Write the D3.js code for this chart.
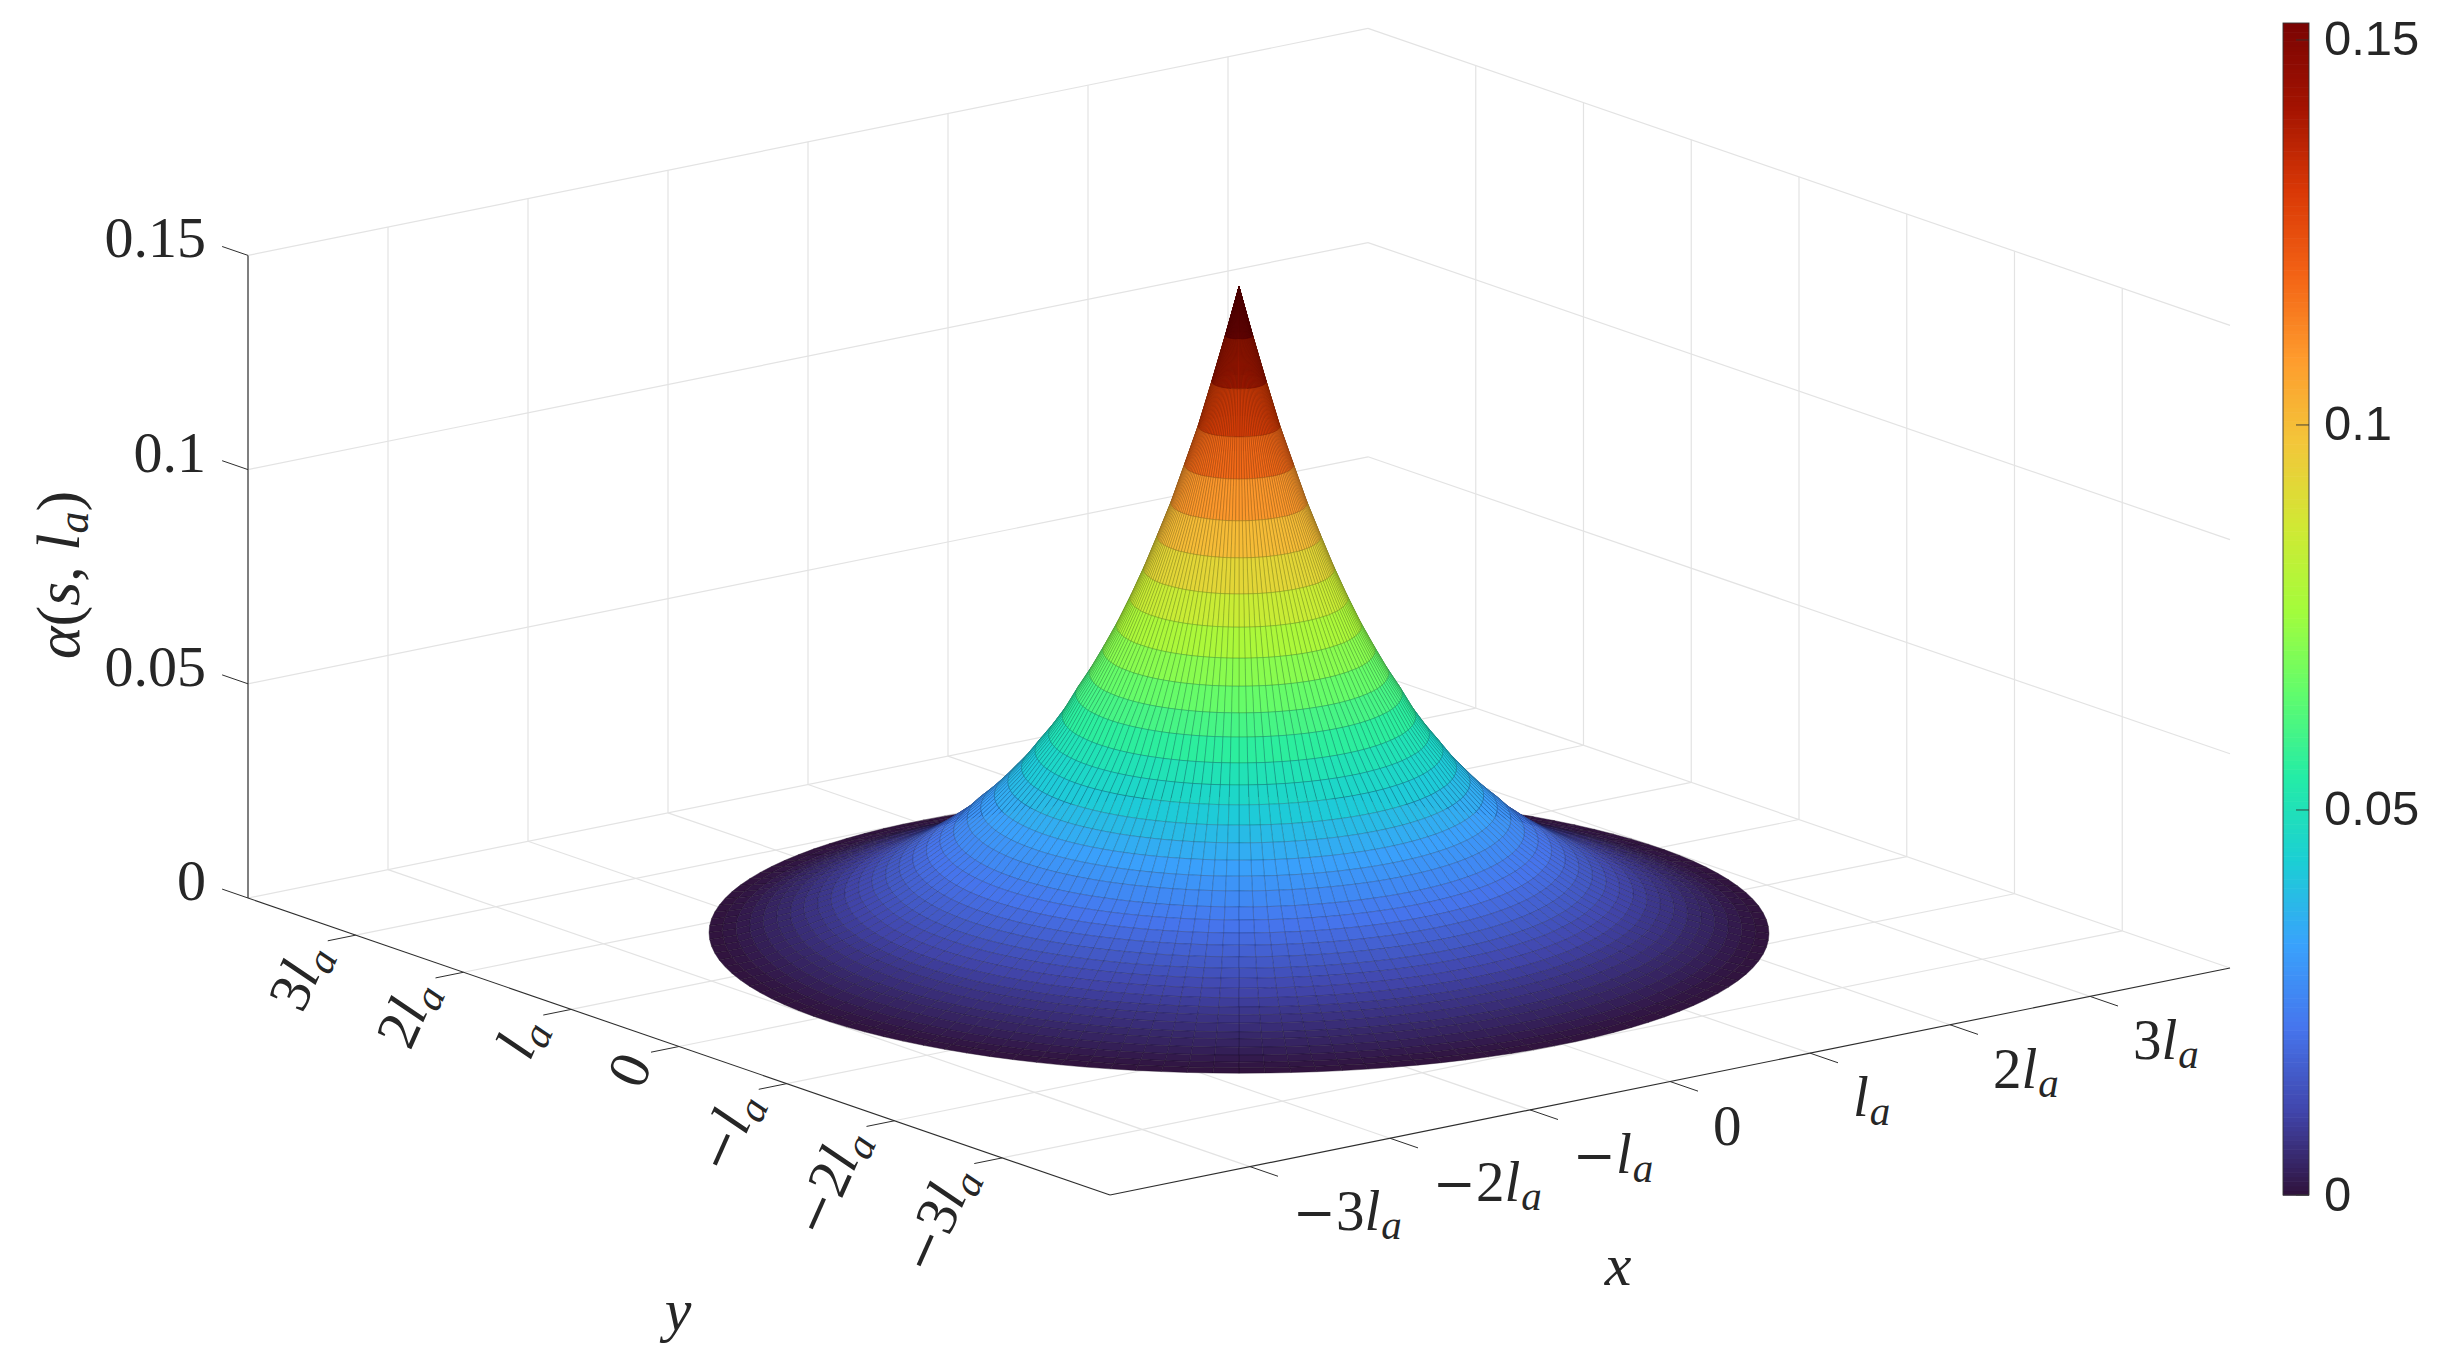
<!DOCTYPE html>
<html><head><meta charset="utf-8">
<style>html,body{margin:0;padding:0;background:#fff;overflow:hidden}
svg{display:block}
.tex{font-family:"Liberation Serif",serif;fill:#262626}
.it{font-style:italic}
.cb{font-family:"Liberation Sans",Arial,sans-serif;fill:#262626;font-size:49px}
</style>
<script src="https://cdn.jsdelivr.net/npm/d3@7"></script>
</head><body><svg id="c" width="2437" height="1368" viewBox="0 0 2437 1368"></svg>
<script>
// ---- data ----
const ringZ = [.1508,.1395,.1287,.1183,.1093,.1004,.0926,.0850,.0781,.0717,.0660,.0606,.0558,.0506,.0463,.0425,.0386,.0353,.0321,.0292,.0266,.0237,.0215,.0193,.0173,.0154,.0136,.0121,.0106,.0092,.0079,.0069,.0058,.0046,.0038,.0027,.0017,.0009,.0004,0];
const rimRadius = 3;
const sectors = 128;
const xyTicks = [-3,-2,-1,0,1,2,3];
const xyTickPrefix = ['−3','−2','−','0','','2','3'];
const zTicks = [0,.05,.1,.15];
const zTickLabels = ['0','0.05','0.1','0.15'];
const cbTicks = [0,.05,.1,.15];
const cbTickLabels = ['0','0.05','0.1','0.15'];
const turbo = ["#30123b","#4145ab","#4675ed","#39a2fc","#1bcfd4","#24eca6","#61fc6c","#a4fc3b","#d1e834","#f3c63a","#fe9b2d","#f36315","#d93806","#a31301","#7a0403"];
const climMax = .1522;

// ---- scales: oblique 3-D projection as pairs of linear scales ----
const origin = [1110,1195];
const xToPx = d3.scaleLinear([-4,4],[0,1120]), xToPy = d3.scaleLinear([-4,4],[0,-227]);
const yToPx = d3.scaleLinear([-4,4],[0,-862]), yToPy = d3.scaleLinear([-4,4],[0,-297]);
const zToPy = d3.scaleLinear([0,.15],[0,-642.6]);
const proj = (x,y,z)=>[origin[0]+xToPx(x)+yToPx(y), origin[1]+xToPy(x)+yToPy(y)+zToPy(z)];
const colorT = d3.scaleLinear(d3.range(turbo.length).map(i=>i/(turbo.length-1)),turbo).interpolate(d3.interpolateRgb);
const colorZ = z=>colorT(Math.max(0,Math.min(1,z/climMax)));
const rScale = d3.scaleLinear([0,ringZ.length-1],[0,rimRadius]);

const svg = d3.select('#c');
const line = (g,a,b,st,w)=>g.append('line').attr('x1',a[0]).attr('y1',a[1]).attr('x2',b[0]).attr('y2',b[1]).attr('stroke',st).attr('stroke-width',w);

// ---- grid ----
const GRID='#e3e3e3', AX='#2e2e2e';
const grid = svg.append('g');
const zt = .15;
xyTicks.forEach(v=>{
  line(grid,proj(v,-4,0),proj(v,4,0),GRID,1.2);
  line(grid,proj(-4,v,0),proj(4,v,0),GRID,1.2);
  line(grid,proj(v,4,0),proj(v,4,zt),GRID,1.2);
  line(grid,proj(4,v,0),proj(4,v,zt),GRID,1.2);
});
zTicks.forEach(z=>{
  line(grid,proj(-4,4,z),proj(4,4,z),GRID,1.2);
  line(grid,proj(4,4,z),proj(4,-4,z),GRID,1.2);
});

// ---- surface ----
const frontAngle = Math.atan2(-xToPx(4)+xToPx(-4), yToPx(4)-yToPx(-4)) ; // angle facing the viewer
const dTheta = 2*Math.PI/sectors;
const quads=[];
for(let i=0;i<ringZ.length-1;i++){
  const r0=rScale(i), r1=rScale(i+1), z0=ringZ[i], z1=ringZ[i+1];
  for(let j=0;j<sectors;j++){
    const t0=frontAngle+j*dTheta, t1=t0+dTheta;
    const P=[[r0*Math.cos(t0),r0*Math.sin(t0),z0],[r1*Math.cos(t0),r1*Math.sin(t0),z1],[r1*Math.cos(t1),r1*Math.sin(t1),z1],[r0*Math.cos(t1),r0*Math.sin(t1),z0]];
    const cx=d3.mean(P,p=>p[0]), cy=d3.mean(P,p=>p[1]), cz=d3.mean(P,p=>p[2]);
    const h=(107.75*cx+140*cy)/176.7;
    quads.push({pts:P.map(p=>proj(p[0],p[1],p[2])), z:z0, key:-.964*h+.264*cz*25.15});
  }
}
quads.sort((a,b)=>a.key-b.key);
const pathOf=q=>'M'+q.pts.map(p=>p[0].toFixed(2)+','+p[1].toFixed(2)).join('L')+'Z';
svg.append('g').selectAll('path').data(quads).join('path')
  .attr('d',pathOf)
  .attr('fill',d=>colorZ(d.z))
  .attr('stroke',d=>d3.interpolateRgb(colorZ(d.z),'#000')(.42))
  .attr('stroke-width',.42)
  .attr('stroke-linejoin','round');

// ---- axes ----
const axes = svg.append('g');
line(axes,proj(-4,4,0),proj(-4,-4,0),AX,1.1);
line(axes,proj(-4,-4,0),proj(4,-4,0),AX,1.1);
line(axes,proj(-4,4,0),proj(-4,4,.15),'#555',1.5);
zTicks.forEach((z,i)=>{
  const a=proj(-4,4,z), b=proj(-4,4.24,z);
  line(axes,a,b,AX,1);
  axes.append('text').attr('class','tex').attr('font-size',58).attr('text-anchor','end')
    .attr('x',206).attr('y',a[1]+2).text(zTickLabels[i]);
});
function labelParts(sel,prefix,fs){
  if(prefix==='0'){ sel.append('tspan').text('0'); return; }
  const m=prefix.startsWith('−');
  if(m) sel.append('tspan').attr('font-family','DejaVu Serif').attr('font-size',fs*.9).text('−');
  const n=prefix.replace('−','');
  if(n) sel.append('tspan').text(n);
  sel.append('tspan').attr('class','it').text('l');
  sel.append('tspan').attr('class','it').attr('font-size',fs*.72).attr('dy',fs*.16).attr('dx',1).text('a');
}
xyTicks.forEach((v,i)=>{
  const a=proj(v,-4,0), b=proj(v,-4.26,0);
  line(axes,a,b,AX,1);
  const t=axes.append('text').attr('class','tex').attr('font-size',57).attr('x',a[0]+43).attr('y',a[1]+63);
  labelParts(t,xyTickPrefix[i],57);
});
xyTicks.forEach((v,i)=>{
  const a=proj(-4,v,0), b=proj(-4.2,v,0);
  line(axes,a,b,AX,1);
  const px=a[0]-26, py=a[1]+18;
  const t=axes.append('text').attr('class','tex').attr('font-size',58).attr('text-anchor','end')
    .attr('transform',`translate(${px},${py}) rotate(-66)`);
  labelParts(t,xyTickPrefix[i],58);
});
axes.append('text').attr('class','tex it').attr('font-size',60).attr('text-anchor','middle').attr('x',1618).attr('y',1285).text('x');
axes.append('text').attr('class','tex it').attr('font-size',60).attr('text-anchor','middle').attr('x',678).attr('y',1330).text('y');
const yl=axes.append('text').attr('class','tex').attr('font-size',62).attr('text-anchor','middle').attr('transform','translate(79,575) rotate(-90)');
yl.append('tspan').attr('class','it').text('α');
yl.append('tspan').text('(');
yl.append('tspan').attr('class','it').text('s');
yl.append('tspan').text(', ');
yl.append('tspan').attr('class','it').text('l');
yl.append('tspan').attr('class','it').attr('font-size',44).attr('dy',9).text('a');
yl.append('tspan').attr('dy',-9).text(')');

// ---- colorbar ----
const cb = svg.append('g');
const cbY = d3.scaleLinear([0,climMax],[1195,23]);
const cbX0=2283, cbX1=2309, levels=d3.range(256);
const lv = d3.scaleLinear([0,256],[0,climMax]);
cb.selectAll('rect').data(levels).join('rect')
  .attr('x',cbX0).attr('width',cbX1-cbX0)
  .attr('y',d=>cbY(lv(d+1))).attr('height',d=>cbY(lv(d))-cbY(lv(d+1))+.6)
  .attr('fill',d=>colorT((d+.5)/256));
cb.append('rect').attr('x',cbX0).attr('y',23).attr('width',cbX1-cbX0).attr('height',1172).attr('fill','none').attr('stroke','#333').attr('stroke-width',.9);
cbTicks.forEach((v,i)=>{
  line(cb,[cbX1-13,cbY(v)],[cbX1,cbY(v)],'#333',.9);
  cb.append('text').attr('class','cb').attr('x',2324).attr('y',cbY(v)+15.5).text(cbTickLabels[i]);
});
</script></body></html>
